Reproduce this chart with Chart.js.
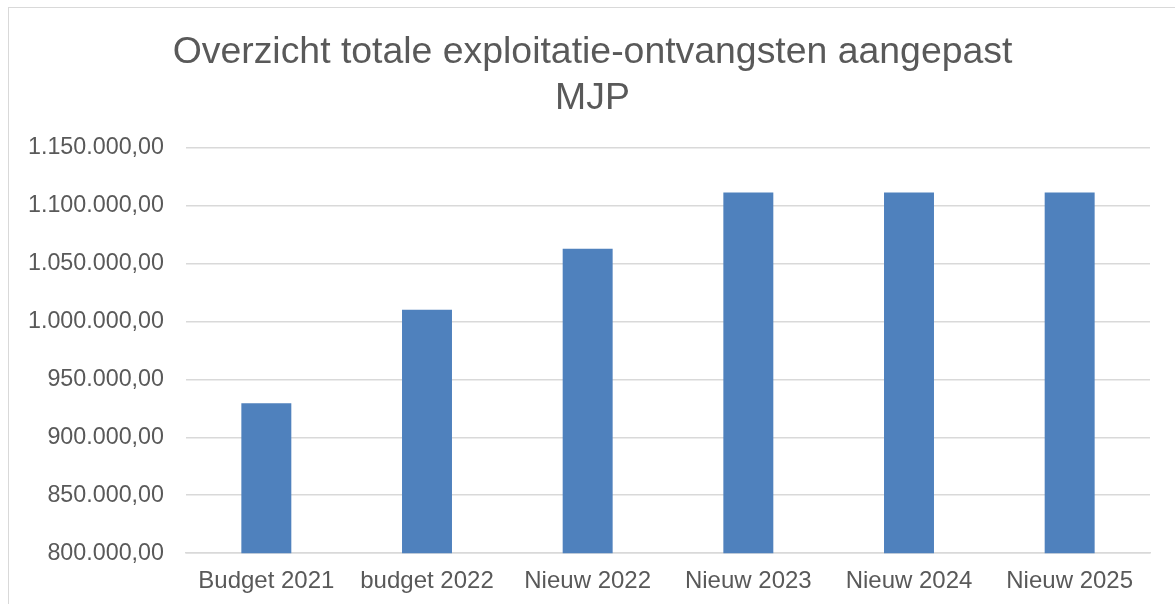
<!DOCTYPE html>
<html>
<head>
<meta charset="utf-8">
<script src="https://cdn.jsdelivr.net/npm/chart.js@4"></script>
<style>
  html, body { margin: 0; padding: 0; background: #fff; overflow: hidden; }
  #wrap { position: relative; width: 1175px; height: 604px; }
  #frame { position: absolute; left: 8px; top: 7px; width: 1200px; height: 700px;
           border-left: 1px solid #d9d9d9; border-top: 1px solid #d9d9d9; }
  canvas { position: absolute; left: 0; top: 0; }
</style>
</head>
<body>
<div id="wrap">
  <div id="frame"></div>
  <canvas id="mycanvas" width="1175" height="604"></canvas>
</div>
<script>
var categories = ['Budget 2021', 'budget 2022', 'Nieuw 2022', 'Nieuw 2023', 'Nieuw 2024', 'Nieuw 2025'];
var ontvangsten = [929300, 1010000, 1062700, 1111200, 1111200, 1111200];
var yMin = 800000;
var yMax = 1150000;
var yStep = 50000;

// dutch number format: 1.150.000,00
function formatNL(v) {
    var s = Math.round(v).toString().replace(/\B(?=(\d{3})+(?!\d))/g, '.');
    return s + ',00';
}

var ctx = document.getElementById('mycanvas').getContext('2d');
Chart.defaults.font.family = '"Liberation Sans", Arial, sans-serif';
Chart.defaults.color = '#595959';

// title in the original sits a bit right of the canvas centre
var shiftTitle = {
    id: 'shiftTitle',
    afterLayout: function (chart) {
        if (chart.titleBlock) {
            chart.titleBlock.left += 30;
        }
    }
};

var myChart = new Chart(ctx, {
    type: 'bar',
    data: {
        labels: categories,
        datasets: [{
            data: ontvangsten,
            backgroundColor: '#4f81bd',
            borderWidth: 0,
            categoryPercentage: 1,
            barPercentage: 0.311
        }]
    },
    options: {
        responsive: false,
        animation: false,
        layout: {
            padding: {left: 5, right: 25, top: 29, bottom: -6}
        },
        plugins: {
            legend: {display: false},
            tooltip: {enabled: false},
            title: {
                display: true,
                text: ['Overzicht totale exploitatie-ontvangsten aangepast', 'MJP'],
                font: {size: 37.4, weight: 'normal', lineHeight: 1.25},
                color: '#595959',
                padding: {top: 0, bottom: 25}
            }
        },
        scales: {
            y: {
                min: yMin,
                max: yMax,
                afterFit: function (scale) { scale.width = 181; },
                ticks: {
                    stepSize: yStep,
                    font: {size: 23.3},
                    padding: 22,
                    callback: function (v) { return formatNL(v); }
                },
                grid: {color: '#d9d9d9', lineWidth: 1.5, drawTicks: false},
                border: {display: false}
            },
            x: {
                ticks: {font: {size: 24}, padding: 14, maxRotation: 0},
                grid: {display: false, drawTicks: false},
                border: {display: true, color: '#d9d9d9', width: 1.5}
            }
        }
    },
    plugins: [shiftTitle]
});
</script>
</body>
</html>
